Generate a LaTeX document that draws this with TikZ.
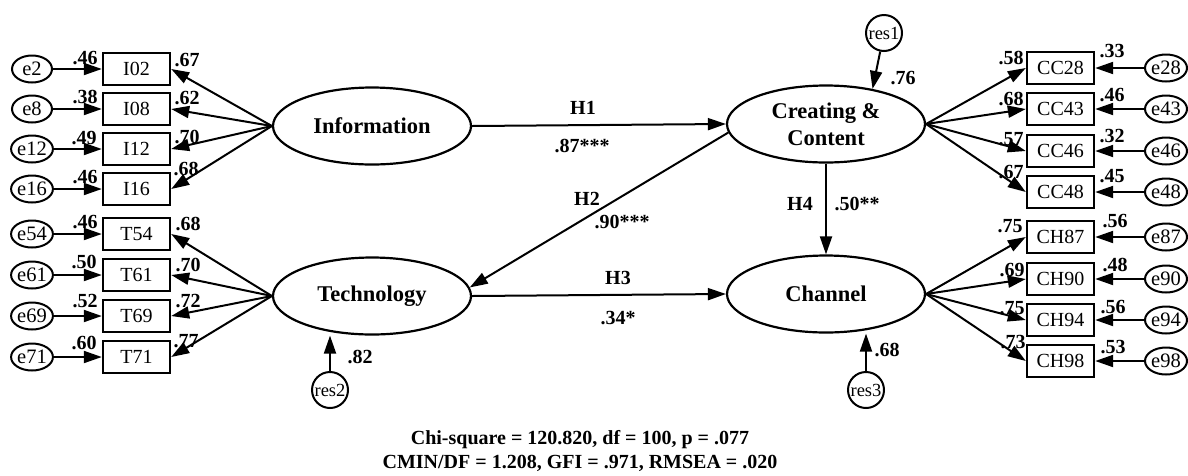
\documentclass[tikz,border=0pt]{standalone}
\usepackage{fontspec}
\setmainfont{Liberation Serif}
\usetikzlibrary{arrows.meta,shapes.geometric}
\begin{document}
\begin{tikzpicture}[x=1pt,y=-1pt,
 lat/.style={ellipse,draw,line width=2.2pt,minimum width=198pt,minimum height=77pt,inner sep=0pt,font=\fontsize{22.5}{27}\selectfont\bfseries,align=center},
 obs/.style={rectangle,draw,line width=2.4pt,minimum width=67pt,minimum height=32pt,inner sep=0pt,font=\fontsize{20}{22}\selectfont},
 err/.style={ellipse,draw,line width=2pt,minimum width=40pt,minimum height=27pt,inner sep=0pt,font=\fontsize{20.5}{22}\selectfont},
 res/.style={circle,draw,line width=2pt,minimum size=36pt,inner sep=0pt,font=\fontsize{18.5}{20}\selectfont},
 arr/.style={line width=2pt,-{Triangle[length=18pt,width=12pt]}},
 lab/.style={font=\fontsize{20}{22}\selectfont\bfseries,inner sep=0pt},
]
\useasboundingbox (0,0) rectangle (1188,475);

% latent variables
\node[lat] (info) at (372,126) {Information};
\node[lat] (tech) at (372,296) {Technology};
\node[lat] (cc) at (826,124) {Creating \&\\Content};
\node[lat] (ch) at (826,294) {Channel};

% residuals of latents
\node[res] (res1) at (884,33) {res1};
\node[res] (res2) at (330,390) {res2};
\node[res] (res3) at (866,390) {res3};
\draw[arr] (res1) -- (cc.37);
\draw[arr] (res2) -- (tech.south -| res2);
\draw[arr] (res3) -- (ch.south -| res3);
\node[lab] (l76) at (903,78) {.76};
\node[lab] (l82) at (360,357) {.82};
\node[lab] (l68) at (887,350) {.68};

% left indicators
\foreach \n/\e/\y/\la/\lax/\lay/\lb/\lbx/\lby in {
 I02/e2/69/.46/85/58/.67/187/60,
 I08/e8/109/.38/85/97/.62/187/98,
 I12/e12/149/.49/84/138/.70/187/137,
 I16/e16/189/.46/85/177/.68/186/169,
 T54/e54/234/.46/85/222/.68/188/224,
 T61/e61/275/.50/84/262/.70/188/265,
 T69/e69/316/.52/85/301/.72/188/301,
 T71/e71/357/.60/84/343/.77/186/341}{
 \node[obs] (\n) at (136.5,\y) {\n};
 \node[err] (\e) at (32,\y) {\e};
 \draw[arr] (\e) -- (\n);
 \node[lab] (la\n) at (\lax,\lay) {\la};
 \node[lab] (lb\n) at (\lbx,\lby) {\lb};
}
\foreach \n in {I02,I08,I12,I16}{\draw[arr] (info.west) -- (\n.east);}
\foreach \n in {T54,T61,T69,T71}{\draw[arr] (tech.west) -- (\n.east);}

% right indicators
\foreach \n/\e/\y/\la/\lax/\lay/\lb/\lbx/\lby in {
 CC28/e28/68/.58/1011/58/.33/1112/51,
 CC43/e43/109/.68/1011/99/.46/1112/95,
 CC46/e46/151/.57/1011/139/.32/1112/136,
 CC48/e48/192/.67/1011/172/.45/1112/176,
 CH87/e87/237/.75/1010/226/.56/1115/221,
 CH90/e90/279/.69/1012/270/.48/1115/265,
 CH94/e94/320/.75/1012/308/.56/1113/307,
 CH98/e98/361/.73/1013/342/.53/1113/347}{
 \node[obs] (\n) at (1060.5,\y) {\n};
 \node[err,minimum width=42pt] (\e) at (1166,\y) {\e};
 \draw[arr] (\e) -- (\n);
 \node[lab] (la\n) at (\lax,\lay) {\la};
 \node[lab] (lb\n) at (\lbx,\lby) {\lb};
}
\foreach \n in {CC28,CC43,CC46,CC48}{\draw[arr] (cc.east) -- (\n.west);}
\foreach \n in {CH87,CH90,CH94,CH98}{\draw[arr] (ch.east) -- (\n.west);}

% structural paths
\draw[arr] (info.east) -- (cc.west);
\draw[arr] (cc.185) -- (tech.5);
\draw[arr] (tech.east) -- (ch.west);
\draw[arr] (cc.south) -- (ch.north);
\node[lab] (h1) at (583,108) {H1};
\node[lab] (h1v) at (582,146) {.87***};
\node[lab] (h2) at (587,199) {H2};
\node[lab] (h2v) at (622,222) {.90***};
\node[lab] (h3) at (618,278) {H3};
\node[lab] (h3v) at (618,318) {.34*};
\node[lab] (h4) at (800,204) {H4};
\node[lab] (h4v) at (857,204) {.50**};

% fit statistics
\node[lab,align=center,font=\fontsize{20}{24}\selectfont\bfseries] (fit) at (580,451)
 {Chi-square = 120.820, df = 100, p = .077\\CMIN/DF = 1.208, GFI = .971, RMSEA = .020};
\end{tikzpicture}
\end{document}
